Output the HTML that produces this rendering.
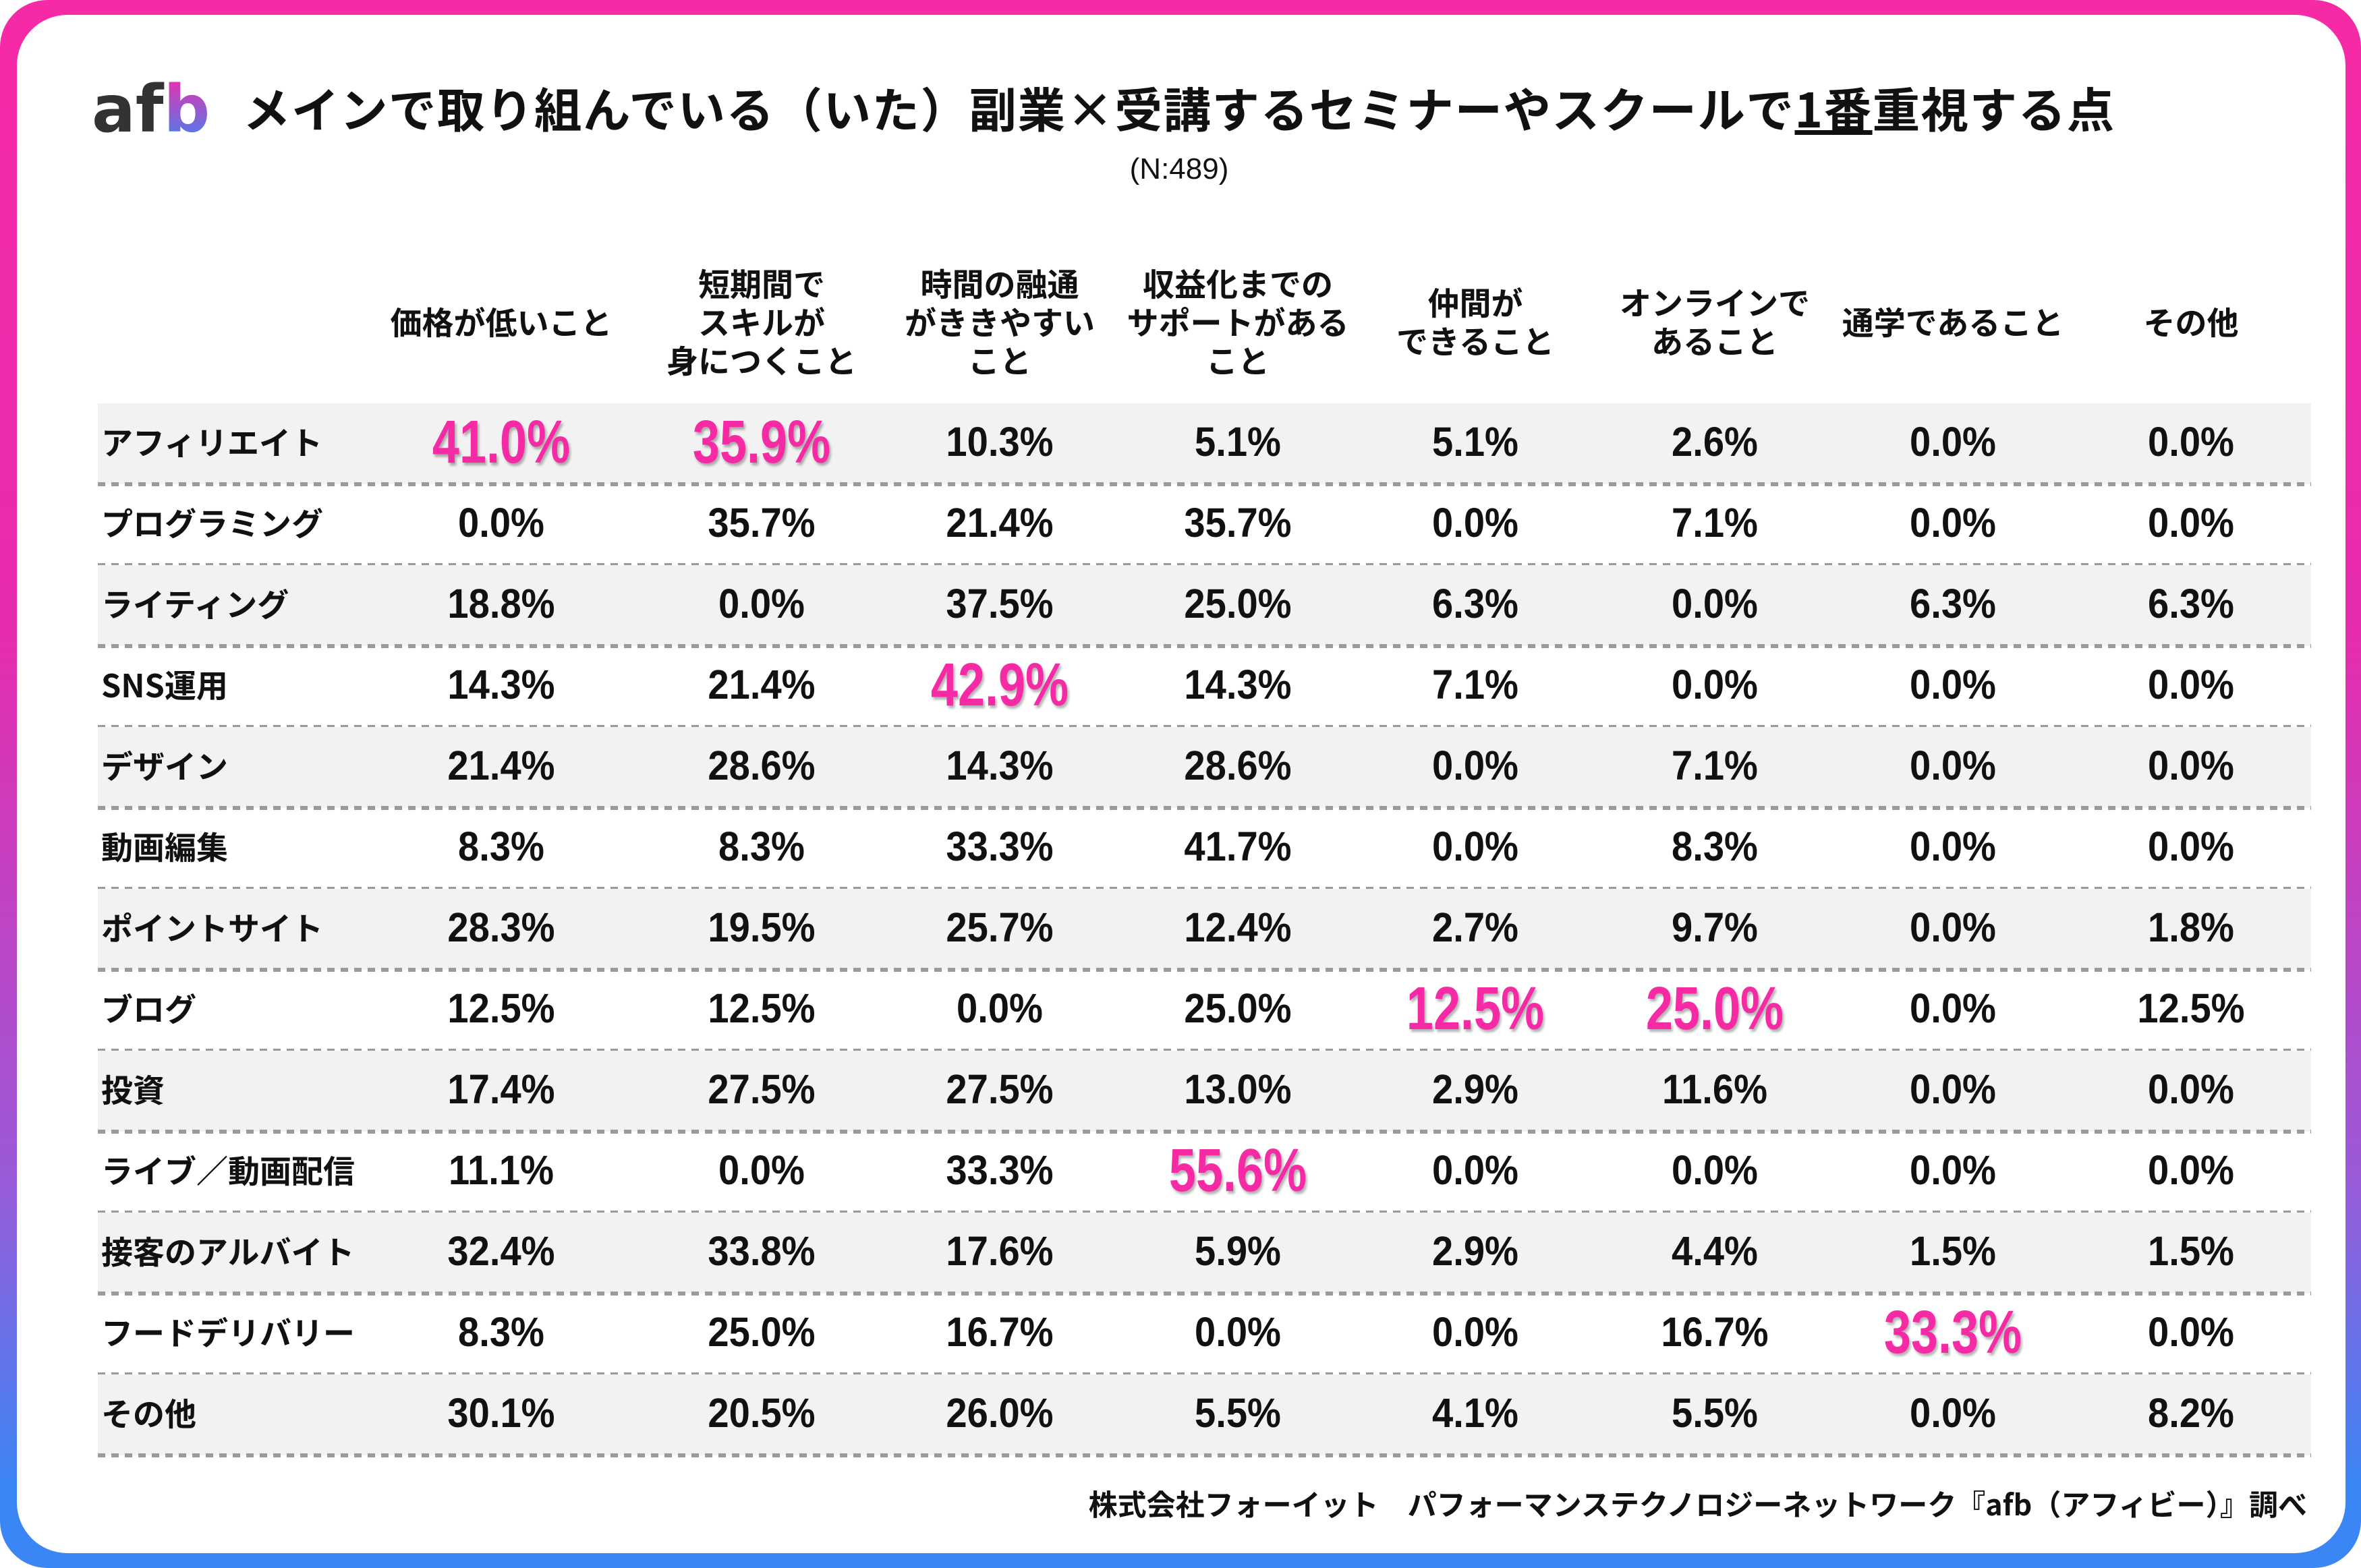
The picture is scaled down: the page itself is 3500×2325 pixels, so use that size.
<!DOCTYPE html>
<html><head><meta charset="utf-8"><style>
*{margin:0;padding:0;box-sizing:border-box}
body{width:3500px;height:2325px;overflow:hidden;background:#fff;font-family:"Liberation Sans","Noto Sans CJK JP",sans-serif;font-weight:bold;color:#111}
#frame{position:absolute;left:0;top:0;width:3500px;height:2325px;border-radius:70px;background:linear-gradient(180deg,#f72aa6 0%,#e72cae 40%,#9a5ad8 75%,#3a86f5 95%,#3a86f5 100%)}
#card{position:absolute;left:25px;top:22px;width:3452px;height:2281px;border-radius:75px;background:#fff}
.abs{position:absolute}
.title{left:360px;top:108px;font-size:70.5px;white-space:nowrap;font-family:"Noto Sans CJK JP",sans-serif;font-weight:bold;letter-spacing:1.5px}
.hd{position:absolute;width:400px;text-align:center;font-size:47px;line-height:57px;font-family:"Noto Sans CJK JP",sans-serif;font-weight:bold}
.row{position:absolute;left:145px;width:3281px;height:120px}
.row.g{background:#f2f2f2}
.dash{position:absolute;left:145px;width:3281px;height:6px;background:repeating-linear-gradient(90deg,#9a9a9a 0 11px,transparent 11px 20px)}
.lbl{position:absolute;left:150px;font-size:47px;font-family:"Noto Sans CJK JP",sans-serif;font-weight:bold;line-height:60px}
.v{position:absolute;width:300px;text-align:center;font-size:61px;line-height:70px;transform:scaleX(0.92)}
.p{font-size:90px;color:#f72aa6;text-shadow:3px 4px 4px rgba(0,0,0,0.3);transform:scaleX(0.8);line-height:100px}
</style></head><body>
<div id="frame"></div><div id="card"></div>
<div class="abs" style="left:136px;top:106px;font-size:96px;font-family:'DejaVu Sans',sans-serif;font-weight:bold;color:#333;line-height:112px">af<span style="background:linear-gradient(180deg,#f72aa6,#3a86f5);-webkit-background-clip:text;color:transparent">b</span></div>
<div class="abs title">メインで取り組んでいる（いた）副業×受講するセミナーやスクールで<u>1番</u>重視する点</div>
<div class="abs" style="left:1648px;top:226px;width:200px;text-align:center;font-size:44px;font-weight:normal">(N:489)</div>
<div id="hds"></div>
<div id="tbl"></div>
<div class="abs" style="right:80px;top:2198px;font-size:43px;font-family:'Noto Sans CJK JP',sans-serif;font-weight:bold;white-space:nowrap">株式会社フォーイット　パフォーマンステクノロジーネットワーク『afb（アフィビー）』調べ</div>
<script>
var cx=[743,1129,1482,1835,2187,2542,2895,3248];
var H=[["価格が低いこと"],["短期間で","スキルが","身につくこと"],["時間の融通","がききやすい","こと"],["収益化までの","サポートがある","こと"],["仲間が","できること"],["オンラインで","あること"],["通学であること"],["その他"]];
var s="";
H.forEach(function(h,i){var top=475-h.length*57/2;s+='<div class="hd" style="left:'+(cx[i]-200)+'px;top:'+top+'px">'+h.join("<br>")+'</div>';});
document.getElementById("hds").innerHTML=s;
var R=[["アフィリエイト","41.0%","35.9%","10.3%","5.1%","5.1%","2.6%","0.0%","0.0%"],
["プログラミング","0.0%","35.7%","21.4%","35.7%","0.0%","7.1%","0.0%","0.0%"],
["ライティング","18.8%","0.0%","37.5%","25.0%","6.3%","0.0%","6.3%","6.3%"],
["SNS運用","14.3%","21.4%","42.9%","14.3%","7.1%","0.0%","0.0%","0.0%"],
["デザイン","21.4%","28.6%","14.3%","28.6%","0.0%","7.1%","0.0%","0.0%"],
["動画編集","8.3%","8.3%","33.3%","41.7%","0.0%","8.3%","0.0%","0.0%"],
["ポイントサイト","28.3%","19.5%","25.7%","12.4%","2.7%","9.7%","0.0%","1.8%"],
["ブログ","12.5%","12.5%","0.0%","25.0%","12.5%","25.0%","0.0%","12.5%"],
["投資","17.4%","27.5%","27.5%","13.0%","2.9%","11.6%","0.0%","0.0%"],
["ライブ／動画配信","11.1%","0.0%","33.3%","55.6%","0.0%","0.0%","0.0%","0.0%"],
["接客のアルバイト","32.4%","33.8%","17.6%","5.9%","2.9%","4.4%","1.5%","1.5%"],
["フードデリバリー","8.3%","25.0%","16.7%","0.0%","0.0%","16.7%","33.3%","0.0%"],
["その他","30.1%","20.5%","26.0%","5.5%","4.1%","5.5%","0.0%","8.2%"]];
var P={"0-0":1,"0-1":1,"3-2":1,"7-4":1,"7-5":1,"9-3":1,"11-6":1};
s="";
R.forEach(function(r,i){var y=598+i*120;
s+='<div class="row'+(i%2==0?' g':'')+'" style="top:'+y+'px"></div>';
s+='<div class="dash" style="top:'+(y+117)+'px"></div>';
s+='<div class="lbl" style="top:'+(y+26)+'px">'+r[0]+'</div>';
for(var j=1;j<9;j++){var p=P[i+"-"+(j-1)];
s+='<div class="v'+(p?' p':'')+'" style="left:'+(cx[j-1]-150)+'px;top:'+(y+(p?8:22))+'px">'+r[j]+'</div>';}
});
document.getElementById("tbl").innerHTML=s;
</script>
</body></html>
